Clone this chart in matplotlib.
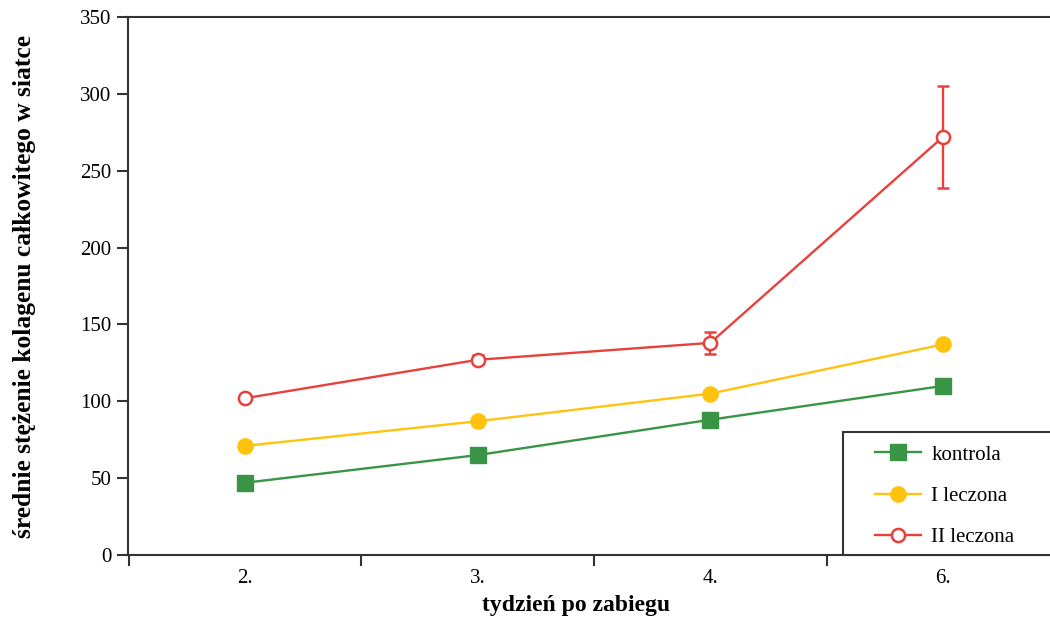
import matplotlib.pyplot as plt
from matplotlib.lines import Line2D
from matplotlib.patches import Rectangle
import numpy as np

plt.rcParams['font.family'] = ['Liberation Serif', 'DejaVu Serif']

weeks = ['2.', '3.', '4.', '6.']
kontrola = [47, 65, 88, 110]
leczona_1 = [71, 87, 105, 137]
leczona_2 = [102, 127, 138, 272]
leczona_2_err = [2, 3, 7, 33]

green = '#3a9445'
yellow = '#ffc20e'
red = '#e8413c'
axis_col = '#333333'

W, H = 1050, 617
fig = plt.figure(figsize=(W / 100, H / 100), dpi=100)
ax = fig.add_axes([128/W, 1 - 555/H, 1 - 128/W, 538/H])

x = np.arange(len(weeks))

ax.plot(x, kontrola, color=green, lw=1.7, marker='s', markersize=11)
ax.plot(x, leczona_1, color=yellow, lw=1.7, marker='o', markersize=11)
ax.errorbar(x, leczona_2, yerr=leczona_2_err, color=red, lw=1.7, marker='o',
            markersize=9.5, markerfacecolor='white', markeredgewidth=1.8,
            elinewidth=1.7, capsize=4.5, capthick=1.7)

ax.set_xlim(-0.503, 3.46)
ax.set_ylim(0, 350)
ax.set_yticks(np.arange(0, 351, 50))
ax.set_xticks(x)
ax.set_xticklabels(weeks)
ax.set_xticks([-0.5, 0.5, 1.5, 2.5], minor=True)
ax.tick_params(axis='x', which='major', length=0, labelsize=15, pad=10)
ax.tick_params(axis='x', which='minor', length=8, width=1.5, color=axis_col)
ax.tick_params(axis='y', length=8, width=1.5, color=axis_col, labelsize=15,
               pad=4)

for side in ['left', 'top', 'bottom']:
    ax.spines[side].set_color(axis_col)
    ax.spines[side].set_linewidth(1.5)
ax.spines['right'].set_visible(False)

# axis titles placed by hand
fig.text(576/W, 1 - 605/H, 'tydzień po zabiegu', fontsize=17,
         fontweight='bold', ha='center', va='center')
fig.text(25/W, 1 - 286/H, 'średnie stężenie kolagenu całkowitego w siatce',
         fontsize=18.4, fontweight='bold', rotation=90, ha='center',
         va='center')

# legend box
x0 = (843 - 128) / 922
y1 = (555 - 432) / 538
ax.add_patch(Rectangle((x0, 0), 1.05 - x0, y1, transform=ax.transAxes,
                       facecolor='white', edgecolor=axis_col, lw=1.5,
                       clip_on=False, zorder=5))

handles = [
    Line2D([], [], color=green, lw=1.7, marker='s', markersize=11),
    Line2D([], [], color=yellow, lw=1.7, marker='o', markersize=11),
    Line2D([], [], color=red, lw=1.7, marker='o', markersize=9.5,
           markerfacecolor='white', markeredgewidth=1.8),
]
labels = ['kontrola', 'I leczona', 'II leczona']
leg = ax.legend(handles, labels, loc='upper left',
                bbox_to_anchor=((875 - 128) / 922, (555 - 445) / 538),
                fontsize=15, frameon=False, borderaxespad=0, borderpad=0,
                handlelength=2.2, labelspacing=1.05, handletextpad=0.5)
leg.set_zorder(6)

fig.savefig('out.png', dpi=100)
